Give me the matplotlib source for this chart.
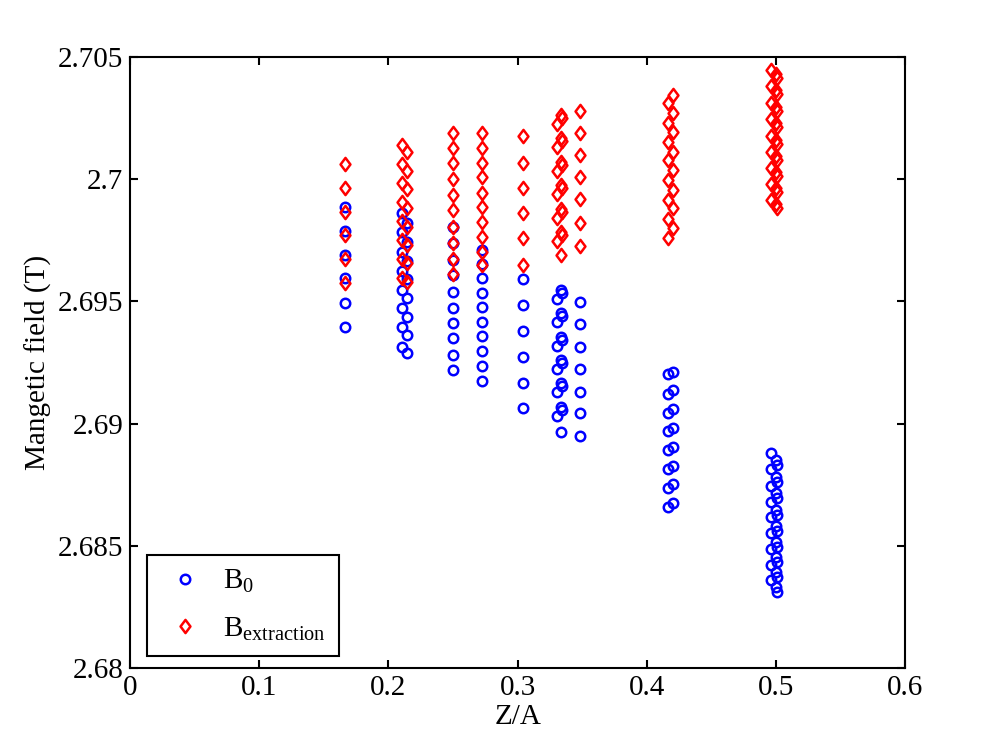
import matplotlib
matplotlib.use('Agg')
import matplotlib.pyplot as plt
from matplotlib.path import Path

# Z/A of each column of points (some columns are split in 2 or 3)
za = [0.1667, 0.2105, 0.2143, 0.25, 0.2727, 0.3043,
      0.3333, 0.3340, 0.3305, 0.3485, 0.4165, 0.4205,
      0.4958, 0.5000, 0.5008]

# B0 (T), one list per Z/A entry
b0 = [
    [2.69886, 2.69788, 2.69690, 2.69596, 2.69493, 2.69395],
    [2.69862, 2.69784, 2.69702, 2.69624, 2.69547, 2.69473, 2.69395, 2.69313],
    [2.69821, 2.69743, 2.69665, 2.69592, 2.69514, 2.69436, 2.69363, 2.69289],
    [2.69806, 2.69738, 2.69669, 2.69608, 2.69540, 2.69472, 2.69410, 2.69349, 2.69281, 2.69219],
    [2.69710, 2.69653, 2.69595, 2.69536, 2.69478, 2.69417, 2.69358, 2.69298, 2.69236, 2.69176],
    [2.69590, 2.69485, 2.69380, 2.69271, 2.69165, 2.69063],
    [2.69547, 2.69451, 2.69354, 2.69260, 2.69165, 2.69068, 2.68966],
    [2.69534, 2.69439, 2.69342, 2.69248, 2.69153, 2.69056],
    [2.69510, 2.69414, 2.69318, 2.69223, 2.69128, 2.69031],
    [2.69499, 2.69408, 2.69315, 2.69222, 2.69131, 2.69042, 2.68949],
    [2.69202, 2.69121, 2.69045, 2.68970, 2.68892, 2.68813, 2.68738, 2.68660],
    [2.69212, 2.69137, 2.69060, 2.68981, 2.68903, 2.68827, 2.68752, 2.68676],
    [2.68879, 2.68813, 2.68745, 2.68680, 2.68617, 2.68551, 2.68486, 2.68421, 2.68360],
    [2.68851, 2.68782, 2.68716, 2.68646, 2.68581, 2.68516, 2.68454, 2.68393, 2.68331],
    [2.68831, 2.68761, 2.68696, 2.68626, 2.68561, 2.68495, 2.68434, 2.68372, 2.68311],
]

# B extraction (T)
bext = [
    [2.70062, 2.69964, 2.69866, 2.69772, 2.69673, 2.69575],
    [2.70140, 2.70062, 2.69984, 2.69907, 2.69829, 2.69751, 2.69673, 2.69596],
    [2.70111, 2.70034, 2.69960, 2.69882, 2.69804, 2.69731, 2.69657, 2.69579],
    [2.70190, 2.70126, 2.70065, 2.70000, 2.69935, 2.69874, 2.69806, 2.69738, 2.69672, 2.69612],
    [2.70188, 2.70126, 2.70068, 2.70008, 2.69942, 2.69885, 2.69826, 2.69765, 2.69703, 2.69649],
    [2.70177, 2.70068, 2.69963, 2.69860, 2.69758, 2.69649],
    [2.70263, 2.70167, 2.70071, 2.69975, 2.69880, 2.69784, 2.69688],
    [2.70250, 2.70155, 2.70059, 2.69963, 2.69867, 2.69772],
    [2.70226, 2.70130, 2.70034, 2.69939, 2.69843, 2.69747],
    [2.70280, 2.70188, 2.70099, 2.70010, 2.69918, 2.69822, 2.69728],
    [2.70311, 2.70229, 2.70153, 2.70079, 2.69997, 2.69915, 2.69836, 2.69758],
    [2.70345, 2.70270, 2.70194, 2.70113, 2.70038, 2.69956, 2.69881, 2.69799],
    [2.70447, 2.70381, 2.70312, 2.70246, 2.70177, 2.70111, 2.70046, 2.69980, 2.69915],
    [2.70430, 2.70365, 2.70295, 2.70230, 2.70160, 2.70095, 2.70029, 2.69964, 2.69899],
    [2.70414, 2.70349, 2.70279, 2.70214, 2.70144, 2.70079, 2.70013, 2.69948, 2.69882],
]

xticks = [0, 0.1, 0.2, 0.3, 0.4, 0.5, 0.6]
xticklabels = ['0', '0.1', '0.2', '0.3', '0.4', '0.5', '0.6']
yticks = [2.68, 2.685, 2.69, 2.695, 2.7, 2.705]
yticklabels = ['2.68', '2.685', '2.69', '2.695', '2.7', '2.705']

plt.rcParams['font.family'] = ['Liberation Serif', 'DejaVu Serif']
plt.rcParams['mathtext.fontset'] = 'custom'
plt.rcParams['mathtext.rm'] = 'Liberation Serif'
plt.rcParams['mathtext.it'] = 'Liberation Serif:italic'

FS = 21

# matlab-like diamond, a bit narrower than tall
diamond = Path([(0, 1), (0.75, 0), (0, -1), (-0.75, 0), (0, 1)],
               [Path.MOVETO, Path.LINETO, Path.LINETO, Path.LINETO, Path.CLOSEPOLY])

fig = plt.figure(figsize=(10.01, 7.52), dpi=100)
ax = fig.add_axes([0.13, 0.1117, 0.7742, 0.8125])

b0_x, b0_y, ext_x, ext_y = [], [], [], []
for x, ys in zip(za, b0):
    b0_x += [x] * len(ys)
    b0_y += ys
for x, ys in zip(za, bext):
    ext_x += [x] * len(ys)
    ext_y += ys

ax.plot(b0_x, b0_y, 'o', color=(0, 0, 1), mfc='none', ms=6.8, mew=1.8, label='B$_0$')
ax.plot(ext_x, ext_y, linestyle='none', marker=diamond, color=(1, 0, 0), mfc='none',
        ms=9.5, mew=1.8, label='B$_{\\mathrm{extraction}}$')

ax.set_xlim(0, 0.6)
ax.set_ylim(2.68, 2.705)
ax.set_xticks(xticks)
ax.set_xticklabels(xticklabels)
ax.set_yticks(yticks)
ax.set_yticklabels(yticklabels)
ax.tick_params(direction='in', length=6, width=1.5, top=True, right=True,
               labelsize=FS, pad=5, colors='black')
for sp in ax.spines.values():
    sp.set_linewidth(1.5)

ax.set_xlabel('Z/A', fontsize=FS, labelpad=2)
ax.set_ylabel('Mangetic field (T)', fontsize=FS, labelpad=4)

leg = ax.legend(loc='lower left', bbox_to_anchor=(0.022, 0.0196), borderaxespad=0,
                fontsize=FS, fancybox=False, framealpha=1, edgecolor='black',
                handlelength=1.7, handletextpad=0.45, borderpad=0.45, labelspacing=0.7)
leg.get_frame().set_linewidth(1.5)

fig.savefig('out.png', dpi=100)
